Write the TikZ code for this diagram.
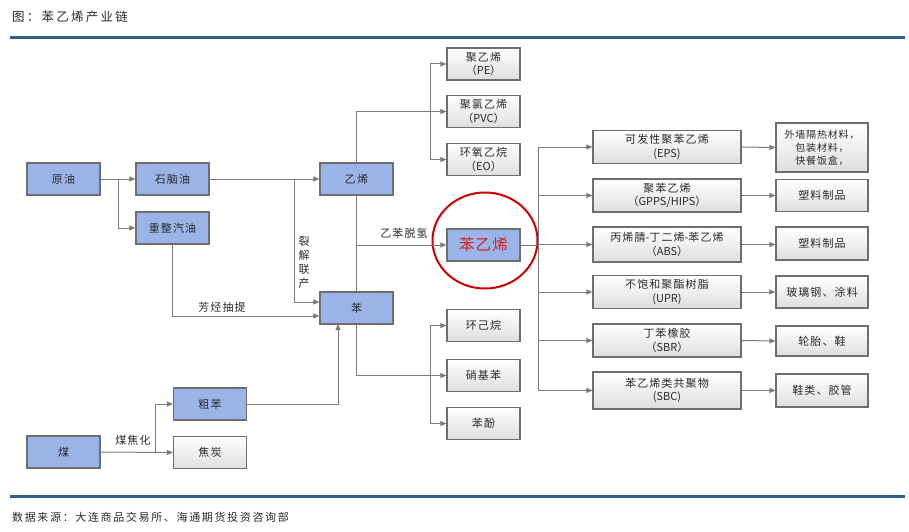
\documentclass[tikz,border=0pt]{standalone}
\usepackage{fontspec}
\setmainfont{Noto Sans CJK SC}
\usetikzlibrary{arrows.meta}
\definecolor{boxblue}{HTML}{9BB4E8}
\definecolor{boxline}{HTML}{6E6E6E}
\definecolor{conncol}{HTML}{7A7A7A}
\definecolor{rulecol}{HTML}{2E5E8A}
\definecolor{txtcol}{HTML}{2A2A2A}
\definecolor{redcol}{HTML}{D42020}
\newcommand{\boxfont}{\fontsize{11}{13.5}\selectfont\addfontfeature{LetterSpace=10}}
\newcommand{\lat}[1]{{\addfontfeature{LetterSpace=0}#1}}
\begin{document}
\begin{tikzpicture}[x=1pt,y=-1pt,
  base/.style={draw=boxline, line width=1.2pt, inner sep=0pt, align=center,
    text=txtcol, font=\boxfont},
  bbox/.style={base, fill=boxblue, minimum width=73pt, minimum height=32pt},
  gbox/.style={base, top color=white, bottom color=black!13, minimum width=73pt, minimum height=32pt},
  cbox/.style={base, top color=white, bottom color=black!13, minimum width=148pt, minimum height=33pt},
  ebox/.style={base, top color=white, bottom color=black!13, minimum width=92pt, minimum height=32pt},
  conn/.style={draw=conncol, line width=1pt},
  arr/.style={conn, -{Triangle[length=6pt,width=5pt]}},
  lbl/.style={text=txtcol, font=\boxfont, inner sep=0pt}
]
\useasboundingbox (0,0) rectangle (909,532);
% title and rules
\node[anchor=west, inner sep=0pt, text=txtcol, font=\fontsize{12.5}{14}\selectfont\addfontfeature{LetterSpace=18}] (title) at (12,17) {图：苯乙烯产业链};
\fill[rulecol] (10,36.5) rectangle (905,39.5);
\fill[rulecol] (10,494.5) rectangle (905,497.5);
\node[anchor=west, inner sep=0pt, text=txtcol, font=\fontsize{11}{14}\selectfont\addfontfeature{LetterSpace=15}] (src) at (12,517) {数据来源：大连商品交易所、海通期货投资咨询部};

% left nodes
\node[bbox] (yy) at (63.5,179) {原油};
\node[bbox] (sny) at (172.5,179) {石脑油};
\node[bbox] (czqy) at (172.5,228) {重整汽油};
\node[bbox] (yx) at (356.5,179) {乙烯};
\node[bbox] (ben) at (356.5,308) {苯};
\node[bbox] (cb) at (210,404) {粗苯};
\node[bbox] (mei) at (63.5,452) {煤};
\node[gbox] (jt) at (210,452.5) {焦炭};

% middle column
\node[gbox] (pe) at (483.5,64) {聚乙烯\\（\lat{PE}）};
\node[gbox] (pvc) at (483.5,111.5) {聚氯乙烯\\（\lat{PVC}）};
\node[gbox] (eo) at (483.5,159.5) {环氧乙烷\\（\lat{EO}）};
\node[bbox, font=\fontsize{15.5}{17}\selectfont\addfontfeature{LetterSpace=8}, text=redcol] (bxy) at (483.5,245) {苯乙烯};
\node[gbox] (hjw) at (483.5,325.5) {环己烷};
\node[gbox] (xjb) at (483.5,375.5) {硝基苯};
\node[gbox] (bf) at (483.5,423.5) {苯酚};
\draw[draw=red!80!black, line width=2pt] (485,240.5) ellipse [x radius=52.5pt, y radius=48pt];

% right columns
\node[cbox] (eps) at (667,147) {可发性聚苯乙烯\\\lat{(EPS)}};
\node[cbox] (gpps) at (667,195.5) {聚苯乙烯\\（\lat{GPPS/HIPS}）};
\node[cbox, minimum height=35pt] (abs) at (667,244.5) {丙烯腈\lat{-}丁二烯\lat{-}苯乙烯\\（\lat{ABS}）};
\node[cbox] (upr) at (667,292) {不饱和聚酯树脂\\\lat{(UPR)}};
\node[cbox] (sbr) at (667,340.5) {丁苯橡胶\\（\lat{SBR}）};
\node[cbox, minimum height=37pt] (sbc) at (667,390.5) {苯乙烯类共聚物\\\lat{(SBC)}};

\node[ebox, minimum height=49pt, font=\fontsize{10}{13}\selectfont\addfontfeature{LetterSpace=8}] (wq) at (822,147.5) {外墙隔热材料，\\包装材料，\\快餐饭盒，};
\node[ebox] (sl1) at (822,195.5) {塑料制品};
\node[ebox, minimum height=33pt] (sl2) at (822,243.5) {塑料制品};
\node[ebox] (blg) at (822,292) {玻璃钢、涂料};
\node[ebox, minimum height=30pt] (lt) at (822,341) {轮胎、鞋};
\node[ebox, minimum height=33pt] (xl) at (822,390.5) {鞋类、胶管};

% connectors: crude oil
\coordinate (j1) at (118,179);
\draw[arr] (yy.east) -- (sny.west);
\draw[conn] (j1) -- (j1 |- czqy.west);
\draw[arr] (j1 |- czqy.west) -- (czqy.west);
% naphtha
\coordinate (j2) at (294,179);
\draw[arr] (sny.east) -- (yx.west);
\draw[arr] (j2) -- (294,302) -- (ben.west |- 0,302);
\node[lbl, align=center, font=\fontsize{11}{14}\selectfont] (ljlc) at (304,262) {裂\\解\\联\\产};
% reformate
\draw[arr] (czqy.south) -- (172.5,316) -- (ben.west |- 0,316);
\node[lbl] (fqct) at (222,307) {芳烃抽提};
% coal
\coordinate (j3) at (155,452);
\draw[arr] (mei.east) -- (jt.west);
\draw[conn] (j3) -- (j3 |- cb.west);
\draw[arr] (j3 |- cb.west) -- (cb.west);
\node[lbl] (mjh) at (133,440) {煤焦化};
% crude benzene to benzene
\draw[arr] (cb.east) -- (338,404) -- (338,324);
% ethylene up
\coordinate (j4) at (430,111.5);
\draw[conn] (yx.north) -- (356.5,111.5) -- (j4);
\draw[arr] (j4) -- (pvc.west);
\draw[conn] (430,64) -- (430,159.5);
\draw[arr] (430,64) -- (pe.west);
\draw[arr] (430,159.5) -- (eo.west);
% ethylene-benzene to styrene
\draw[conn] (yx.south) -- (ben.north);
\draw[arr] (356.5,245) -- (bxy.west);
\node[lbl] (ybtq) at (404,233) {乙苯脱氢};
% benzene down
\draw[conn] (ben.south) -- (356.5,375.5) -- (430,375.5);
\draw[arr] (430,375.5) -- (xjb.west);
\draw[conn] (430,325.5) -- (430,423.5);
\draw[arr] (430,325.5) -- (hjw.west);
\draw[arr] (430,423.5) -- (bf.west);
% styrene to products
\draw[conn] (bxy.east) -- (538,245);
\draw[conn] (538,147) -- (538,390.5);
\foreach \n in {eps,gpps,abs,upr,sbr,sbc} {
  \draw[arr] (538,0 |- \n.west) -- (\n.west);
}
\draw[arr] (eps.east) -- (wq.west);
\draw[arr] (gpps.east) -- (sl1.west);
\draw[arr] (abs.east) -- (sl2.west |- abs.east);
\draw[arr] (upr.east) -- (blg.west);
\draw[arr] (sbr.east) -- (lt.west);
\draw[arr] (sbc.east) -- (xl.west);
\end{tikzpicture}
\end{document}
